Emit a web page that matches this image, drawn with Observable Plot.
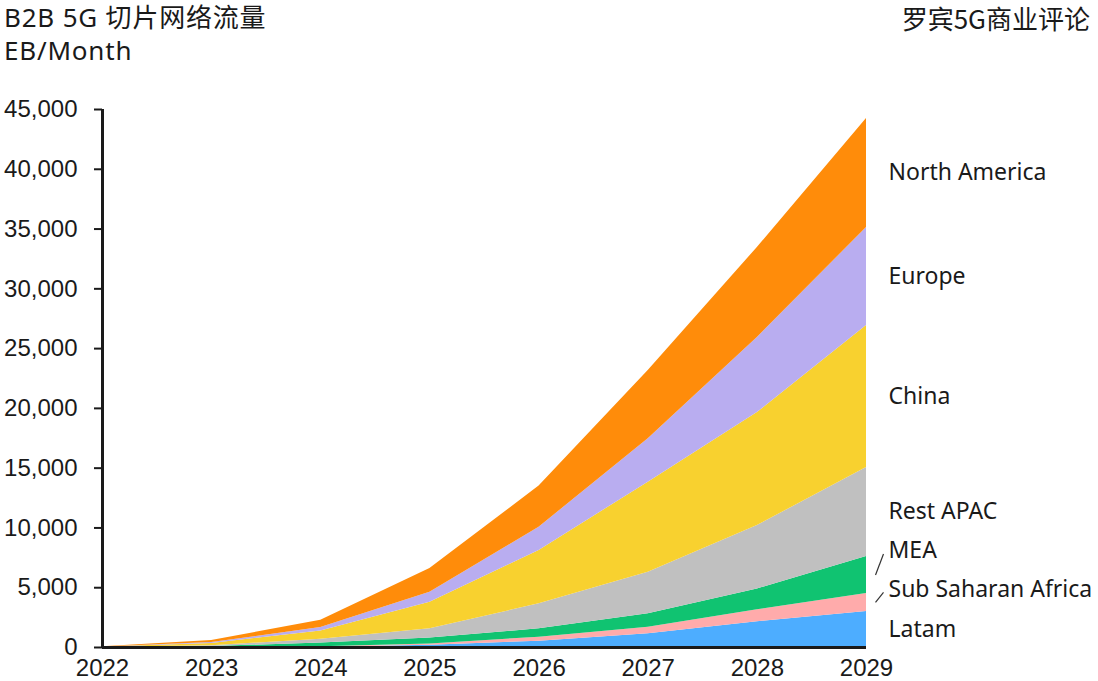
<!DOCTYPE html>
<html>
<head>
<meta charset="utf-8">
<script src="https://cdn.jsdelivr.net/npm/d3@7"></script>
<script src="https://cdn.jsdelivr.net/npm/@observablehq/plot@0.6"></script>
<style>
  html, body { margin: 0; padding: 0; background: #fff; }
  #wrap { position: relative; width: 1098px; height: 681px; }
  #head { position: relative; height: 64px; }
  #t1 { position: absolute; left: 4px; top: 1px; font-family: "Noto Sans", "Noto Sans CJK SC", sans-serif; font-size: 26px; letter-spacing: 0.8px; line-height: 33px; color: #1a1a1a; white-space: nowrap; }
  #t2 { position: absolute; right: 8px; top: 1px; font-family: "Noto Sans CJK SC", sans-serif; font-size: 26px; line-height: 33px; color: #1a1a1a; white-space: nowrap; }
</style>
</head>
<body>
<div id="wrap">
  <div id="head">
    <div id="t1">B2B 5G 切片网络流量<br>EB/Month</div>
    <div id="t2">罗宾5G商业评论</div>
  </div>
  <div id="chart"></div>
</div>
<script>
const years = [2022, 2023, 2024, 2025, 2026, 2027, 2028, 2029];
const regions = ["Latam", "Sub Saharan Africa", "MEA", "Rest APAC", "China", "Europe", "North America"];
const latam        = [3, 10, 30, 190, 530, 1150, 2150, 3010];
const subSaharan   = [3, 10, 40, 110, 330, 550, 1000, 1510];
const mea          = [8, 60, 300, 500, 700, 1120, 1750, 3090];
const restApac     = [8, 60, 320, 760, 2090, 3480, 5300, 7440];
const china        = [15, 200, 680, 2220, 4460, 7530, 9450, 11880];
const europe       = [8, 70, 300, 840, 1950, 3630, 6280, 8200];
const northAmerica = [15, 175, 600, 1980, 3440, 5710, 7530, 9120];
const yTicks = [0, 5000, 10000, 15000, 20000, 25000, 30000, 35000, 40000, 45000];
const colors = ["#4DADFF", "#FFABAB", "#10C371", "#C0C0C0", "#F8D12F", "#B9ADF0", "#FF8C0A"];

const seriesValues = [latam, subSaharan, mea, restApac, china, europe, northAmerica];
const table = [];
regions.forEach((r, i) => years.forEach((y, j) => table.push({region: r, year: y, value: seriesValues[i][j]})));

const W = 1098, H = 617, ML = 102, MR = 232, MT = 45, MB = 34;
const last = years.length - 1;
const yearPerPx = (years[last] - years[0]) / (W - ML - MR);
const valPerPx = 45000 / (H - MT - MB);

// label positions: midpoint of each band at the last year (nudged in pixels for crowded ones)
let cum = 0;
const labelNudge = {"MEA": 24, "Sub Saharan Africa": 13};
const labels = regions.map((r, i) => {
  const v = seriesValues[i][last];
  const mid = cum + v / 2;
  cum += v;
  const up = labelNudge[r] || 0;
  return {region: r, mid, up, ly: mid + up * valPerPx};
});
const leaders = labels.filter(d => d.up !== 0).map(d => ({
  x1: years[last] + 9 * yearPerPx, y1: d.mid,
  x2: years[last] + 17 * yearPerPx, y2: d.mid + (d.up - 3) * valPerPx
}));

const plot = Plot.plot({
  width: W, height: H,
  marginLeft: ML, marginRight: MR, marginTop: MT, marginBottom: MB,
  style: {fontFamily: "'Liberation Sans', Arial, sans-serif", fontSize: "24px", color: "#1a1a1a", background: "#fff", overflow: "visible"},
  x: {domain: [years[0], years[last]], ticks: years, tickFormat: d => String(d)},
  y: {domain: [0, 45000], ticks: yTicks, tickFormat: d3.format(",")},
  color: {domain: regions, range: colors},
  marks: [
    Plot.areaY(table, {x: "year", y: "value", z: "region", fill: "region", order: regions, curve: "linear"}),
    Plot.axisY({ticks: yTicks, tickFormat: d3.format(","), tickSize: 8, tickPadding: 17, strokeWidth: 2, label: null, fontSize: 24}),
    Plot.axisX({ticks: years, tickFormat: d => String(d), tickSize: 0, tickPadding: 11, label: null, fontSize: 24}),
    Plot.ruleX([years[0]], {stroke: "#1a1a1a", strokeWidth: 3}),
    Plot.ruleY([0], {stroke: "#1a1a1a", strokeWidth: 3}),
    Plot.text(labels, {x: () => years[last], y: "ly", text: "region", textAnchor: "start", dx: 22, fontSize: 23, fill: "#1a1a1a", fontFamily: "'Noto Sans', sans-serif"}),
    Plot.link(leaders, {x1: "x1", y1: "y1", x2: "x2", y2: "y2", stroke: "#333", strokeWidth: 1.2})
  ]
});
document.getElementById("chart").appendChild(plot);
</script>
</body>
</html>
